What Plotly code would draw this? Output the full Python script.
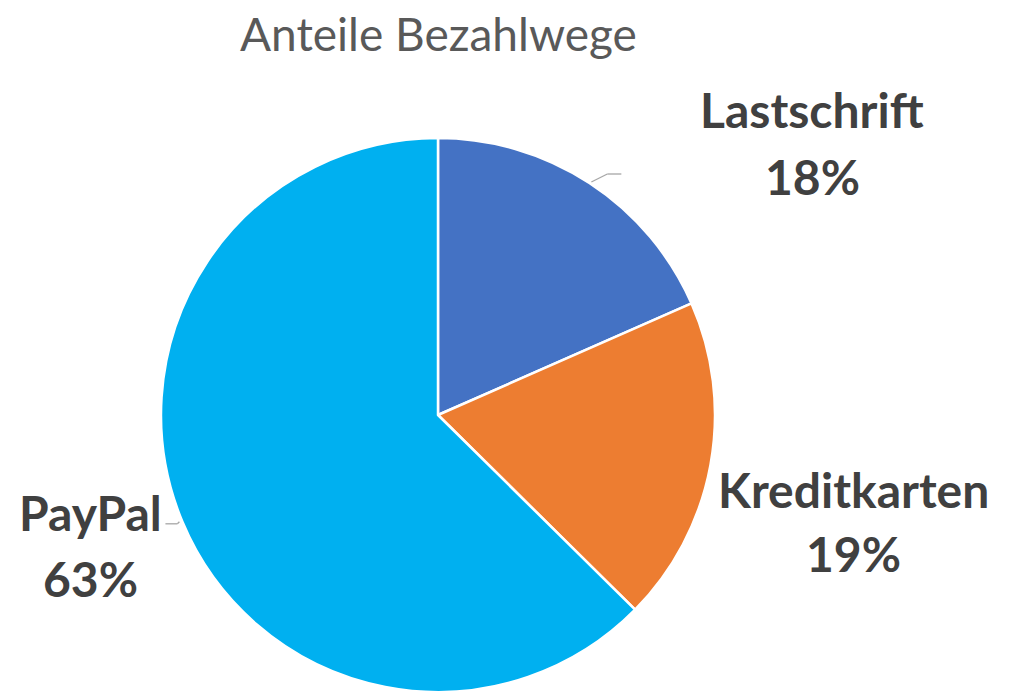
import math
import plotly.graph_objects as go

# ---- data ----
categories = ["Lastschrift", "Kreditkarten", "PayPal"]
values = [18.4, 19.0, 62.6]
colors = ["#4472C4", "#ED7D31", "#00B0F0"]
title_text = "Anteile Bezahlwege"

W, H = 1012, 691
OFF = 8  # page body margin
cx, cy, R = 438, 415, 277  # pie center/radius in page px (layout)

# label anchor positions (page px) for each category: x, name line y, pct line y
label_pos = {
    "Lastschrift": (812, 110, 177),
    "Kreditkarten": (853, 489, 553),
    "PayPal": (90, 512, 578),
}

def px(x, y):
    return (x - OFF) / W, 1 - (y - OFF) / H

dx0, _ = px(cx - R, 0)
dx1, _ = px(cx + R, 0)
_, dy1 = px(0, cy - R)
_, dy0 = px(0, cy + R)

fig = go.Figure()
fig.add_trace(go.Pie(
    labels=categories,
    values=values,
    marker=dict(colors=colors, line=dict(color="white", width=2.5)),
    sort=False,
    direction="clockwise",
    rotation=0,
    textinfo="none",
    hoverinfo="label+percent",
    showlegend=False,
    domain=dict(x=[dx0, dx1], y=[dy0, dy1]),
))

total = sum(values)
annotations = []
shapes = []
cum = 0
for cat, v in zip(categories, values):
    frac = v / total
    mid = (cum + frac / 2) * 2 * math.pi
    cum += frac
    lx, ly1, ly2 = label_pos[cat]
    pct = f"{round(frac * 100)}%"
    for txt, yy in ((cat, ly1), (pct, ly2)):
        ax, ay = px(lx, yy)
        annotations.append(dict(
            x=ax, y=ay, xref="paper", yref="paper", text=f"<b>{txt}</b>",
            showarrow=False, xanchor="center", yanchor="middle",
            font=dict(family="Lato, Open Sans, sans-serif", size=48, color="#404040"),
        ))
    ex = cx + R * math.sin(mid)
    ey = cy - R * math.cos(mid)
    if cat == "Lastschrift":
        pts = [(ex + 2, ey - 1), (ex + 18, ey - 9), (ex + 32, ey - 9)]
    elif cat == "PayPal":
        pts = [(ex - 3, ey), (ex - 5, ey + 2), (ex - 17, ey + 2)]
    else:
        pts = []
    for (x0, y0), (x1, y1) in zip(pts[:-1], pts[1:]):
        a0, b0 = px(x0, y0)
        a1, b1 = px(x1, y1)
        shapes.append(dict(type="line", xref="paper", yref="paper",
                           x0=a0, y0=b0, x1=a1, y1=b1,
                           line=dict(color="#A6A6A6", width=1.3)))

# title as annotation
tx, ty = px(438, 33)
annotations.append(dict(
    x=tx, y=ty, xref="paper", yref="paper", text=title_text,
    showarrow=False, xanchor="center", yanchor="middle",
    font=dict(family="Lato, Open Sans, sans-serif", size=46, color="#595959"),
))

fig.update_layout(
    width=W, height=H,
    margin=dict(l=0, r=0, t=0, b=0),
    paper_bgcolor="white", plot_bgcolor="white",
    annotations=annotations,
    shapes=shapes,
)

fig.write_html("out.html")
